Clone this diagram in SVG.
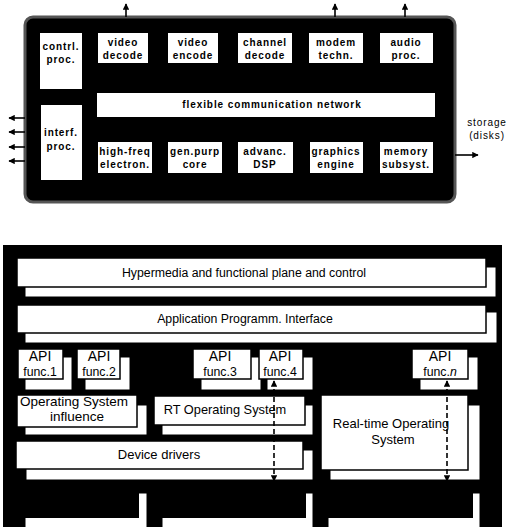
<svg xmlns="http://www.w3.org/2000/svg" width="507" height="527" viewBox="0 0 507 527">
<style>
.blk{fill:#ffffff;stroke:none}
.tb{font-family:"Liberation Sans",Arial,sans-serif;font-weight:bold;font-size:10px;letter-spacing:0.9px;fill:#000;text-anchor:middle}
.lay{fill:#ffffff;stroke:#000;stroke-width:1.5}
.sh{fill:#ffffff;stroke:#000;stroke-width:1}
.tr{font-family:"Liberation Sans",Arial,sans-serif;font-size:12.3px;fill:#000;text-anchor:middle}
.conn{stroke:#000;stroke-width:1.6;fill:none}
.dash{stroke:#000;stroke-width:1.6;fill:none;stroke-dasharray:5 3}
</style>
<defs>
<marker id="ah" viewBox="0 0 10 10" refX="9" refY="5" markerWidth="4" markerHeight="4" orient="auto-start-reverse">
<path d="M0,0 L10,5 L0,10 z" fill="#000"/>
</marker>
</defs>
<rect width="507" height="527" fill="#ffffff"/>

<!-- TOP DIAGRAM -->
<g id="chip">
<rect x="25" y="17" width="430" height="185" rx="8" fill="#000" stroke="#555" stroke-width="3"/>
</g>
<g id="contrl-proc"><rect class="blk" x="40" y="33" width="42" height="56"/><text class="tb" x="61" y="50">contrl.</text><text class="tb" x="61" y="63">proc.</text></g>
<g id="video-decode"><rect class="blk" x="98" y="33" width="50" height="30"/><text class="tb" x="123" y="46">video</text><text class="tb" x="123" y="59">decode</text></g>
<g id="video-encode"><rect class="blk" x="168" y="33" width="50" height="30"/><text class="tb" x="193" y="46">video</text><text class="tb" x="193" y="59">encode</text></g>
<g id="channel-decode"><rect class="blk" x="238" y="33" width="54" height="30"/><text class="tb" x="265" y="46">channel</text><text class="tb" x="265" y="59">decode</text></g>
<g id="modem-techn"><rect class="blk" x="309" y="33" width="54" height="30"/><text class="tb" x="336" y="46">modem</text><text class="tb" x="336" y="59">techn.</text></g>
<g id="audio-proc"><rect class="blk" x="380" y="33" width="53" height="30"/><text class="tb" x="406" y="46">audio</text><text class="tb" x="406" y="59">proc.</text></g>
<g id="flex-net"><rect class="blk" x="97" y="93" width="338" height="24"/><text class="tb" x="272" y="108">flexible communication network</text></g>
<g id="interf-proc"><rect class="blk" x="41" y="105" width="41" height="75"/><text class="tb" x="61" y="136">interf.</text><text class="tb" x="61" y="150">proc.</text></g>
<g id="high-freq"><rect class="blk" x="98" y="142" width="54" height="31"/><text class="tb" x="125" y="155">high-freq</text><text class="tb" x="125" y="168">electron.</text></g>
<g id="gen-purp"><rect class="blk" x="168" y="142" width="54" height="31"/><text class="tb" x="195" y="155">gen.purp</text><text class="tb" x="195" y="168">core</text></g>
<g id="advanc-dsp"><rect class="blk" x="238" y="142" width="55" height="31"/><text class="tb" x="265" y="155">advanc.</text><text class="tb" x="265" y="168">DSP</text></g>
<g id="graphics"><rect class="blk" x="310" y="142" width="53" height="31"/><text class="tb" x="336" y="155">graphics</text><text class="tb" x="336" y="168">engine</text></g>
<g id="memory"><rect class="blk" x="380" y="142" width="53" height="31"/><text class="tb" x="406" y="155">memory</text><text class="tb" x="406" y="168">subsyst.</text></g>
<g id="storage-label"><text class="tb" style="font-weight:normal" x="487" y="126">storage</text><text class="tb" style="font-weight:normal" x="487" y="139">(disks)</text></g>

<!-- BOTTOM DIAGRAM -->
<g id="frame"><rect x="3" y="245" width="499" height="290" fill="#000"/></g>
<g id="hypermedia"><rect class="sh" x="25" y="267" width="471" height="30"/><rect class="lay" x="17" y="258" width="469" height="29"/><text class="tr" x="244" y="277">Hypermedia and functional plane and control</text></g>
<g id="api"><rect class="sh" x="25" y="312" width="472" height="31"/><rect class="lay" x="17" y="305" width="469" height="28"/><text class="tr" x="245" y="323">Application  Programm. Interface</text></g>
<g id="api-func1"><rect class="sh" x="25" y="357" width="47" height="33"/><rect class="lay" x="18" y="349" width="45" height="30"/><text class="tr" style="font-size:14px" x="40" y="361">API</text><text class="tr" x="40" y="376">func.1</text></g>
<g id="api-func2"><rect class="sh" x="85" y="357" width="45" height="33"/><rect class="lay" x="77" y="349" width="43" height="30"/><text class="tr" style="font-size:14px" x="99" y="361">API</text><text class="tr" x="99" y="376">func.2</text></g>
<g id="api-func3"><rect class="sh" x="201" y="357" width="60" height="33"/><rect class="lay" x="193" y="349" width="58" height="30"/><text class="tr" style="font-size:14px" x="220" y="361">API</text><text class="tr" x="220" y="376">func.3</text></g>
<g id="api-func4"><rect class="sh" x="267" y="357" width="46" height="33"/><rect class="lay" x="259" y="349" width="44" height="30"/><text class="tr" style="font-size:14px" x="280" y="361">API</text><text class="tr" x="280" y="376">func.4</text></g>
<g id="api-funcn"><rect class="sh" x="420" y="357" width="58" height="33"/><rect class="lay" x="412" y="349" width="56" height="30"/><text class="tr" style="font-size:14px" x="440" y="361">API</text><text class="tr" x="440" y="376">func.<tspan font-style="italic">n</tspan></text></g>
<g id="os-influence"><rect class="sh" x="25" y="405" width="122" height="30"/><rect class="lay" x="17" y="395" width="120" height="32"/><text class="tr" style="font-size:13.5px" x="74" y="406">Operating System</text><text class="tr" style="font-size:13.5px" x="77" y="421">influence</text></g>
<g id="rt-os"><rect class="sh" x="162" y="405" width="151" height="30"/><rect class="lay" x="154" y="396" width="151" height="29"/><text class="tr" style="font-size:12.8px" x="225" y="414">RT Operating System</text></g>
<g id="realtime-os"><rect class="sh" x="330" y="405" width="150" height="75"/><rect class="lay" x="321" y="395" width="147" height="75"/><text class="tr" style="font-size:13px" x="391" y="428">Real-time Operating</text><text class="tr" style="font-size:13px" x="393" y="444">System</text></g>
<g id="device-drivers"><rect class="sh" x="26" y="450" width="287" height="30"/><rect class="lay" x="16" y="441" width="287" height="28"/><text class="tr" style="font-size:13px" x="159" y="459">Device drivers</text></g>
<g id="bottom-row">
<rect class="sh" x="25" y="493" width="122" height="50"/><rect x="16" y="483" width="123" height="35" fill="#000"/>
<rect class="sh" x="162" y="493" width="151" height="50"/><rect x="154" y="483" width="152" height="35" fill="#000"/>
<rect class="sh" x="328" y="493" width="152" height="50"/><rect x="320" y="483" width="153" height="35" fill="#000"/>
</g>

<g id="connectors">
<line class="conn" x1="126" y1="17" x2="126" y2="4" marker-end="url(#ah)"/>
<line class="conn" x1="335" y1="17" x2="335" y2="4" marker-end="url(#ah)"/>
<line class="conn" x1="405" y1="17" x2="405" y2="4" marker-end="url(#ah)"/>
<line class="conn" x1="25" y1="118" x2="9" y2="118" marker-end="url(#ah)"/>
<line class="conn" x1="25" y1="132" x2="9" y2="132" marker-end="url(#ah)"/>
<line class="conn" x1="25" y1="147" x2="9" y2="147" marker-end="url(#ah)"/>
<line class="conn" x1="25" y1="161" x2="9" y2="161" marker-end="url(#ah)"/>
<line class="conn" x1="455" y1="155" x2="478" y2="155" marker-end="url(#ah)"/>
<line class="dash" x1="274" y1="381" x2="274" y2="481" marker-start="url(#ah)" marker-end="url(#ah)"/>
<line class="dash" x1="447" y1="381" x2="447" y2="481" marker-start="url(#ah)" marker-end="url(#ah)"/>
</g>
</svg>
